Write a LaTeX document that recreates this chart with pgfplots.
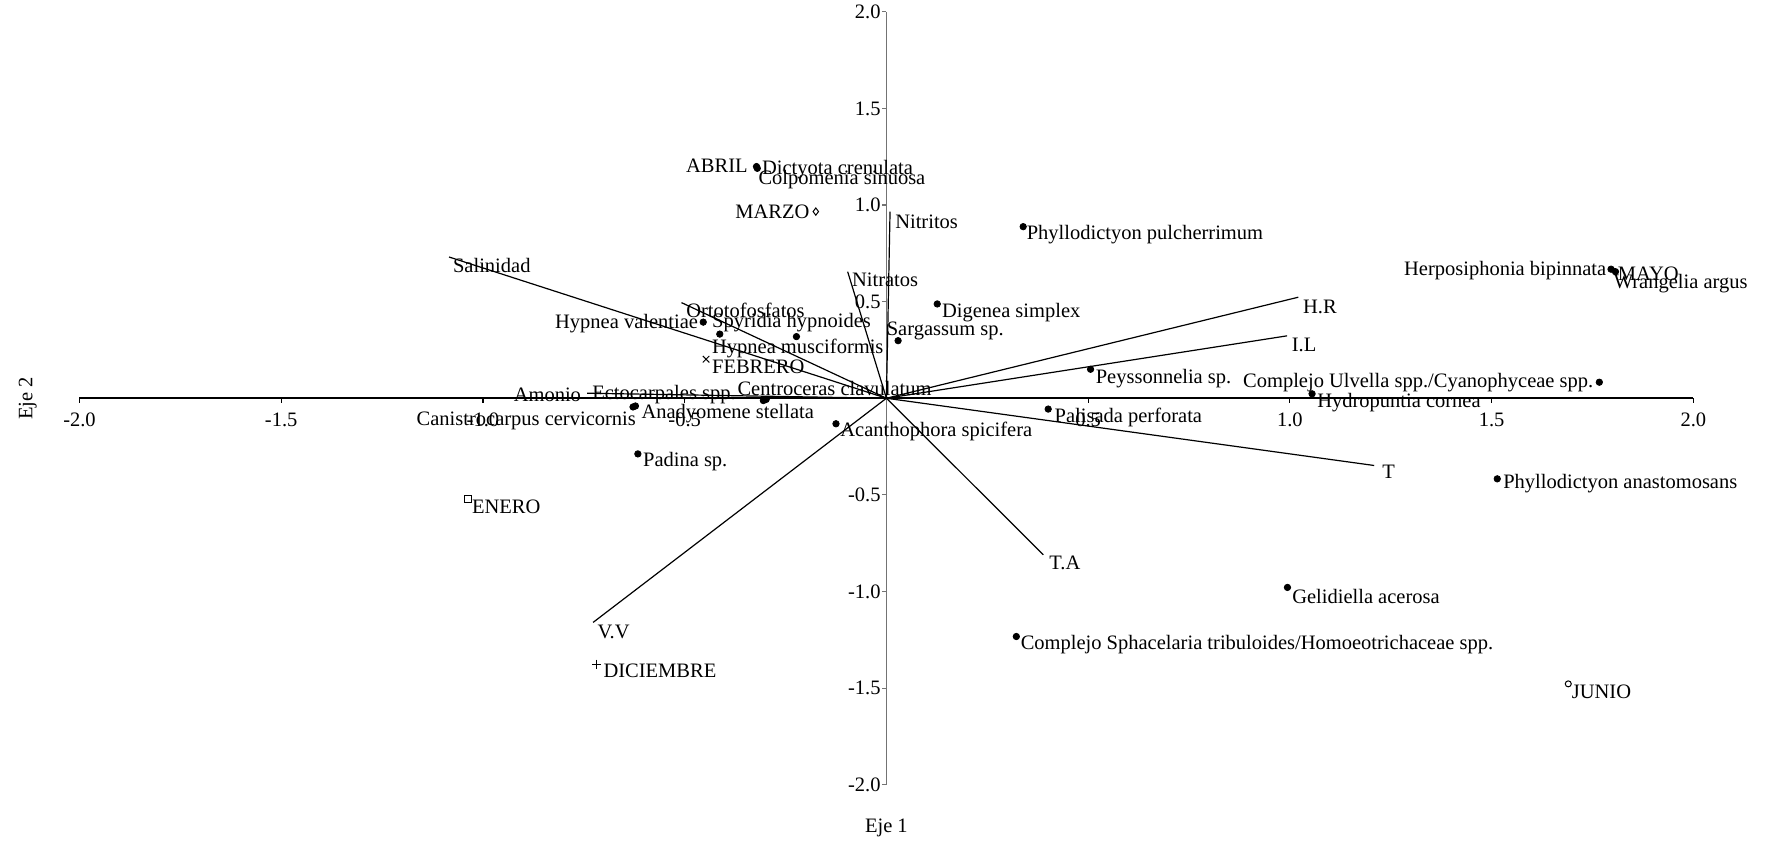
\documentclass[border=0pt]{standalone}
\usepackage{fontspec}
\setmainfont{Liberation Serif}
\usepackage{pgfplots}
\pgfplotsset{compat=1.18}
\definecolor{axgray}{gray}{0.45}
\tikzset{lbl/.style={inner sep=0pt, anchor=west}, lble/.style={inner sep=0pt, anchor=east}}
\begin{document}
\fontsize{10.25}{12.3}\selectfont
\begin{tikzpicture}
\begin{axis}[
  scale only axis, width=807pt, height=386.5pt,
  xmin=-2, xmax=2, ymin=-2, ymax=2,
  axis x line=middle, axis y line=middle,
  x axis line style={-, line width=0.9pt, black},
  y axis line style={-, line width=0.9pt, axgray},
  clip=false,
  xtick={-2,-1.5,-1,-0.5,0.5,1,1.5,2},
  ytick={-2,-1.5,-1,-0.5,0.5,1,1.5,2},
  tick align=outside,
  major tick length=2.2pt,
  xtick style={black, line width=0.6pt},
  ytick style={axgray, line width=0.6pt},
  tick label style={/pgf/number format/fixed, /pgf/number format/fixed zerofill, /pgf/number format/precision=1, /pgf/number format/assume math mode=true},
  xticklabel style={inner sep=1pt, yshift=-4pt},
  yticklabel style={inner sep=0.5pt},
]
% environmental vectors
\addplot[line width=0.6pt] coordinates {(0,0) (-1.084,0.731)}; % Salinidad
\addplot[line width=0.6pt] coordinates {(0,0) (-0.508,0.495)}; % Ortotofosfatos
\addplot[line width=0.6pt] coordinates {(0,0) (-0.096,0.655)}; % Nitratos
\addplot[line width=0.6pt] coordinates {(0,0) (0.009,0.966)}; % Nitritos
\addplot[line width=0.6pt] coordinates {(0,0) (1.021,0.523)}; % H.R
\addplot[line width=0.6pt] coordinates {(0,0) (0.993,0.323)}; % I.L
\addplot[line width=0.6pt] coordinates {(0,0) (1.209,-0.348)}; % T
\addplot[line width=0.6pt] coordinates {(0,0) (0.389,-0.810)}; % T.A
\addplot[line width=0.6pt] coordinates {(0,0) (-0.727,-1.160)}; % V.V
\addplot[line width=0.6pt] coordinates {(0,0) (-0.742,0.026)}; % Amonio
% months
\addplot[only marks, mark=square, mark size=1.7pt, line width=0.5pt] coordinates {(-1.037,-0.522)}; % ENERO
\addplot[only marks, mark=x, mark size=2.3pt, line width=0.5pt] coordinates {(-0.447,0.202)}; % FEBRERO
\addplot[only marks, mark=diamond, mark size=1.8pt, line width=0.5pt] coordinates {(-0.175,0.966)}; % MARZO
\addplot[only marks, mark=triangle, mark size=1.1pt, line width=0.4pt] coordinates {(-0.322,1.199) (1.805,0.660)}; % ABRIL, MAYO
\addplot[only marks, mark=o, mark size=1.5pt, line width=0.5pt] coordinates {(1.690,-1.478)}; % JUNIO
\addplot[only marks, mark=+, mark size=2.3pt, line width=0.5pt] coordinates {(-0.718,-1.376)}; % DICIEMBRE
% species
\addplot[only marks, mark=*, mark size=1.6pt] coordinates {
(-0.322,1.199) (-0.320,1.190) (0.339,0.888) (0.126,0.488) (0.029,0.298)
(-0.454,0.394) (-0.413,0.332) (-0.223,0.319) (-0.305,-0.012) (-0.298,-0.006)
(-0.628,-0.045) (-0.622,-0.040) (-0.616,-0.288) (-0.125,-0.132) (0.401,-0.056)
(0.506,0.150) (1.767,0.083) (1.055,0.023) (1.796,0.668) (1.807,0.655)
(1.514,-0.417) (0.994,-0.979) (0.322,-1.233)
};
% labels
\node[lble] at (axis cs:-0.343,1.202) {ABRIL};
\node[lbl] at (axis cs:-0.309,1.185) {Dictyota crenulata};
\node[lbl] at (axis cs:-0.318,1.130) {Colpomenia sinuosa};
\node[lble] at (axis cs:-0.190,0.966) {MARZO};
\node[lbl] at (axis cs:-1.075,0.687) {Salinidad};
\node[lbl] at (axis cs:-0.497,0.454) {Ortotofosfatos};
\node[lble] at (axis cs:-0.466,0.385) {Hypnea valentiae};
\node[lbl] at (axis cs:-0.433,0.394) {Spyridia hypnoides};
\node[lbl] at (axis cs:-0.433,0.259) {Hypnea musciformis};
\node[lbl] at (axis cs:-0.433,0.164) {FEBRERO};
\node[lbl] at (axis cs:-0.086,0.613) {Nitratos};
\node[lbl] at (axis cs:0.021,0.914) {Nitritos};
\node[lbl] at (axis cs:0.347,0.845) {Phyllodictyon pulcherrimum};
\node[lbl] at (axis cs:0.137,0.445) {Digenea simplex};
\node[lbl] at (axis cs:0.000,0.350) {Sargassum sp.};
\node[lbl] at (axis cs:-0.370,0.052) {Centroceras clavulatum};
\node[lble] at (axis cs:-0.756,0.018) {Amonio};
\node[lbl] at (axis cs:-0.730,0.018) {Ectocarpales spp.};
\node[lbl] at (axis cs:-0.608,-0.077) {Anadyomene stellata};
\node[lble] at (axis cs:-0.620,-0.115) {Canistrocarpus cervicornis};
\node[lbl] at (axis cs:-0.604,-0.327) {Padina sp.};
\node[lbl] at (axis cs:-0.115,-0.172) {Acanthophora spicifera};
\node[lbl] at (axis cs:-1.028,-0.560) {ENERO};
\node[lbl] at (axis cs:-0.717,-1.207) {V.V};
\node[lbl] at (axis cs:-0.702,-1.409) {DICIEMBRE};
\node[lbl] at (axis cs:0.416,-0.101) {Palisada perforata};
\node[lbl] at (axis cs:0.518,0.104) {Peyssonnelia sp.};
\node[lbl] at (axis cs:1.228,-0.379) {T};
\node[lbl] at (axis cs:0.403,-0.853) {T.A};
\node[lbl] at (axis cs:1.032,0.474) {H.R};
\node[lbl] at (axis cs:1.004,0.276) {I.L};
\node[lble] at (axis cs:1.753,0.081) {Complejo Ulvella spp./Cyanophyceae spp.};
\node[lbl] at (axis cs:1.067,-0.020) {Hydropuntia cornea};
\node[lble] at (axis cs:1.785,0.661) {Herposiphonia bipinnata};
\node[lbl] at (axis cs:1.812,0.644) {MAYO};
\node[lbl] at (axis cs:1.802,0.592) {Wrangelia argus};
\node[lbl] at (axis cs:1.528,-0.441) {Phyllodictyon anastomosans};
\node[lbl] at (axis cs:1.005,-1.026) {Gelidiella acerosa};
\node[lbl] at (axis cs:0.332,-1.276) {Complejo Sphacelaria tribuloides/Homoeotrichaceae spp.};
\node[lbl] at (axis cs:1.698,-1.517) {JUNIO};
\node at (axis cs:0,-2.224) {Eje 1};
\node[rotate=90] at (axis cs:-2.128,0) {Eje 2};
\path (axis cs:-2.197,-2.316) rectangle (axis cs:2.195,2.061);
\end{axis}
\end{tikzpicture}
\end{document}
